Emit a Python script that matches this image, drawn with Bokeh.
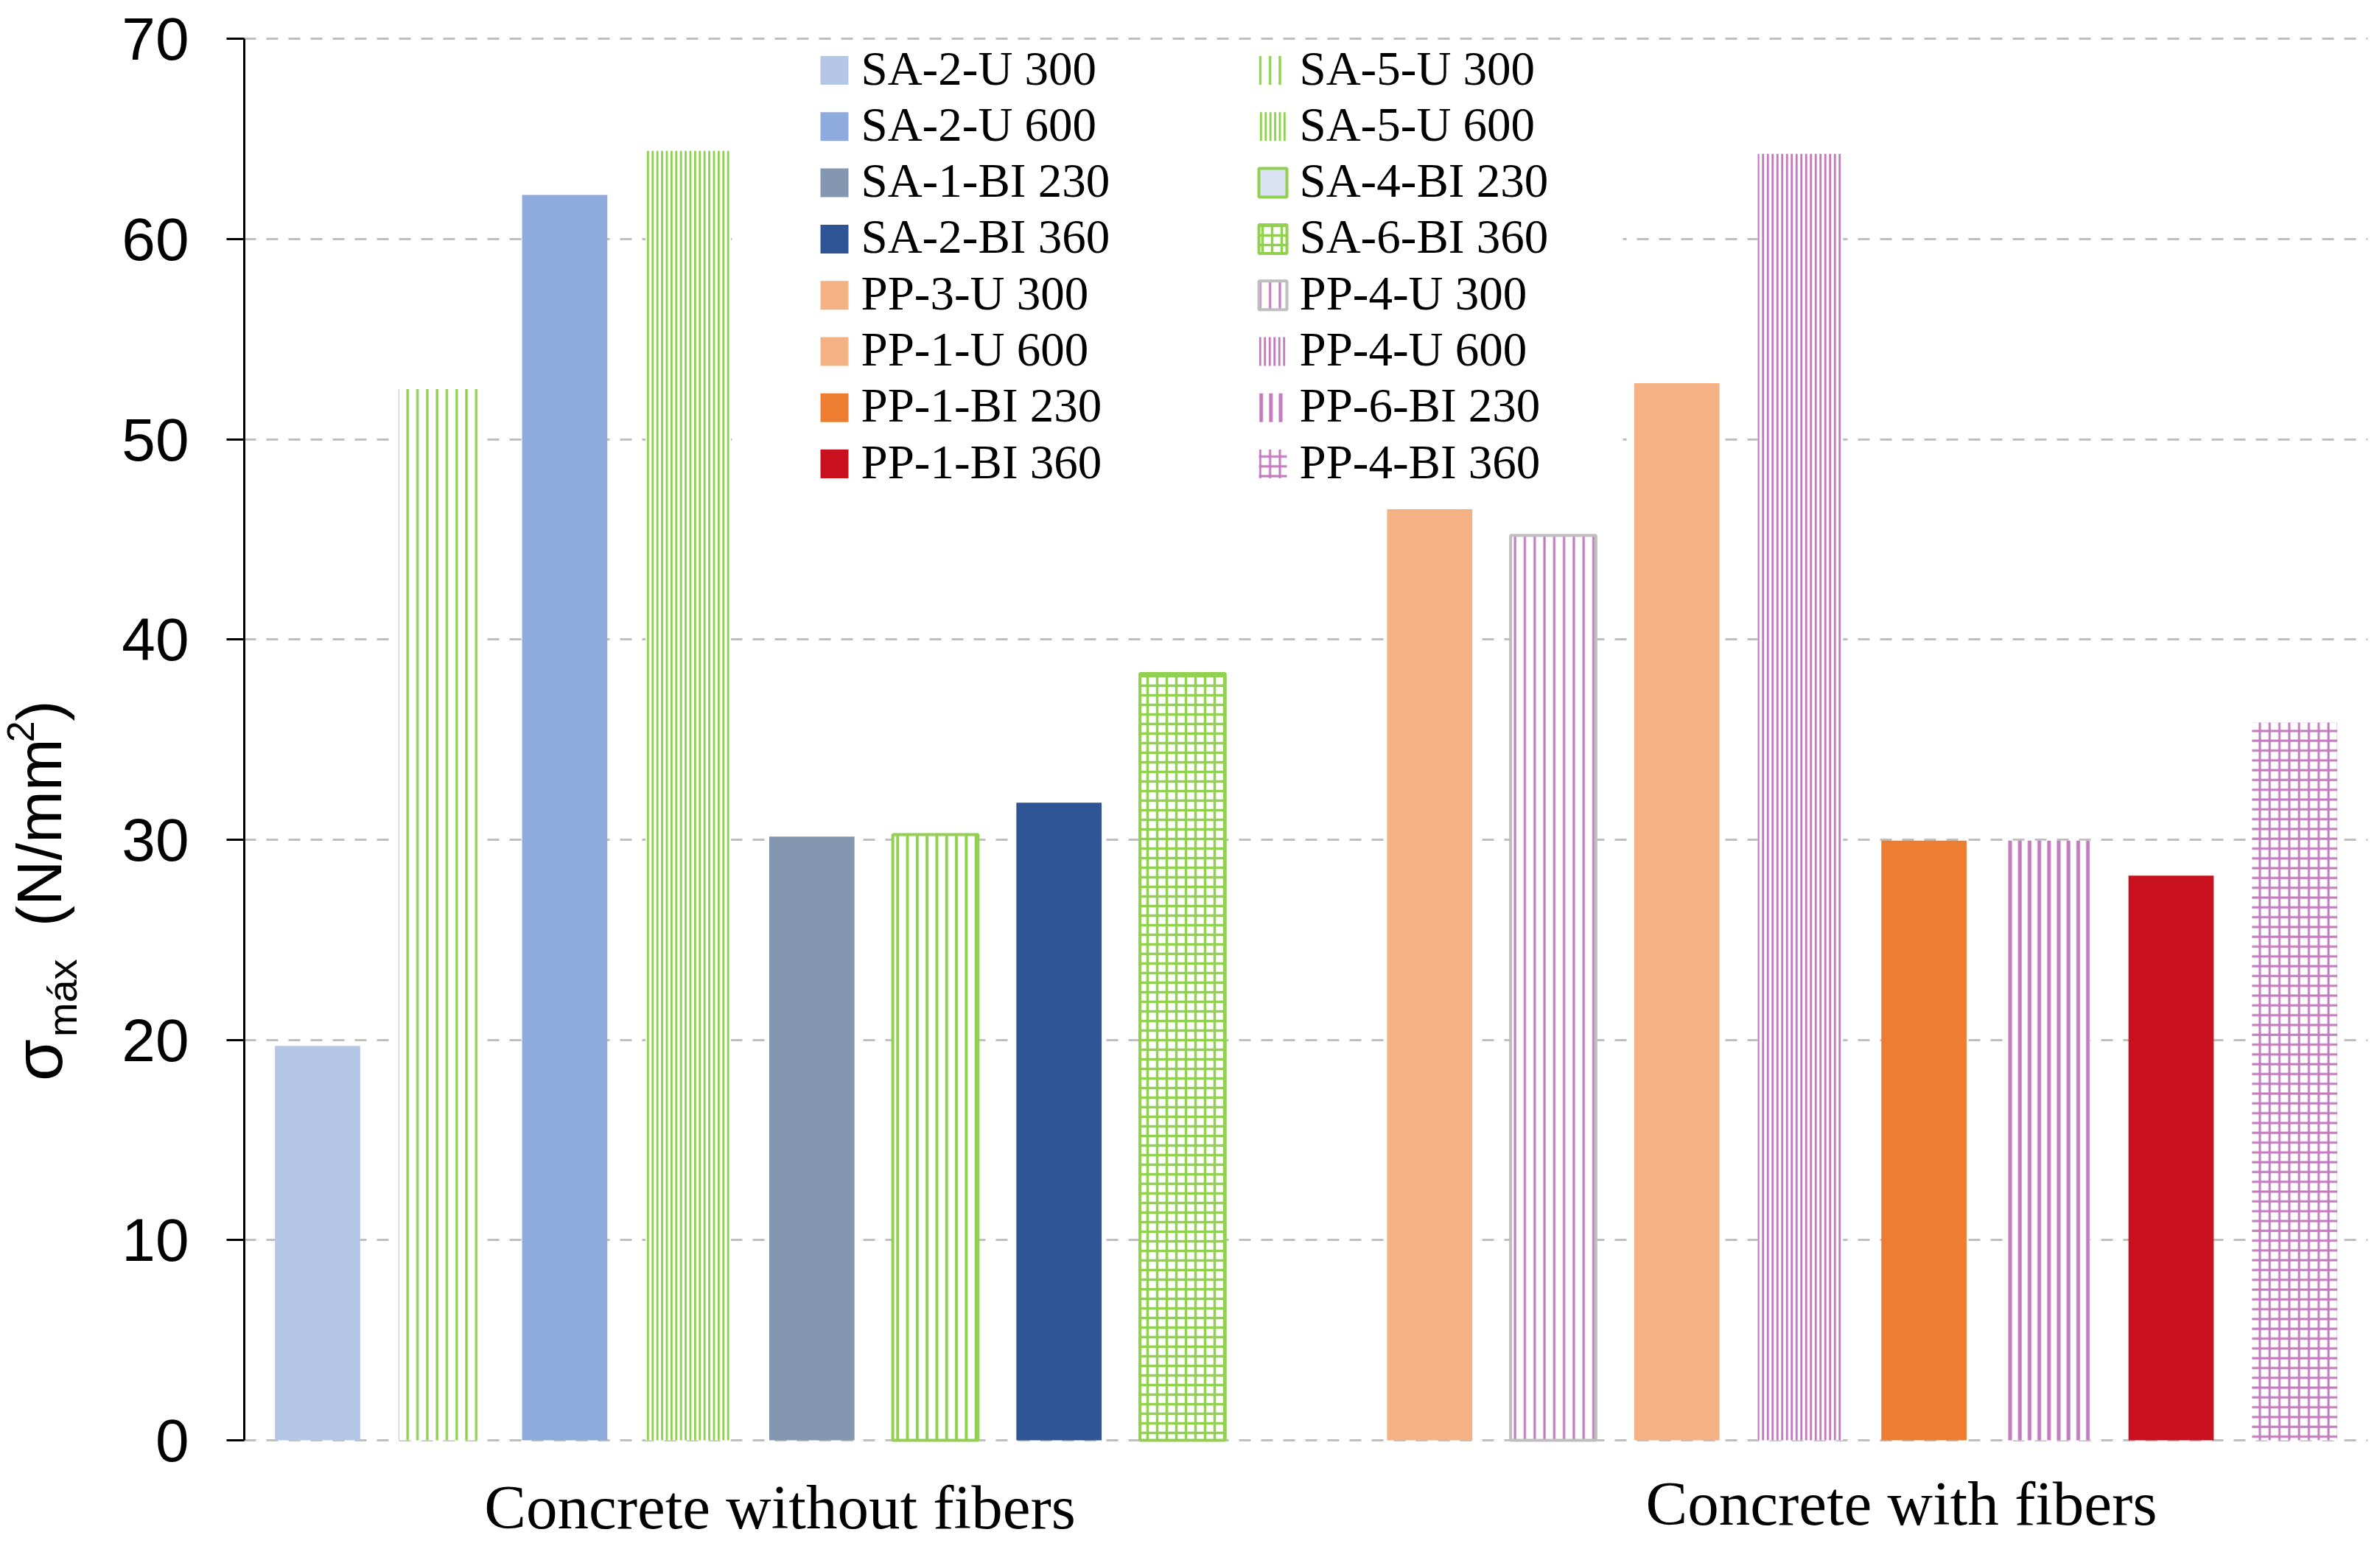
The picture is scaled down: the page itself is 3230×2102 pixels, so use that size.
import math
from bokeh.plotting import figure
from bokeh.layouts import row
from bokeh.models import Range1d, FixedTicker, ColumnDataSource
from bokeh.core.properties import value
from bokeh.embed import file_html
from bokeh.resources import INLINE

# ---------------- data ----------------
groups = ["Concrete without fibers", "Concrete with fibers"]
series = ["SA-2-U 300", "SA-5-U 300", "SA-2-U 600", "SA-5-U 600",
          "SA-1-BI 230", "SA-4-BI 230", "SA-2-BI 360", "SA-6-BI 360",
          "PP-3-U 300", "PP-4-U 300", "PP-1-U 600", "PP-4-U 600",
          "PP-1-BI 230", "PP-6-BI 230", "PP-1-BI 360", "PP-4-BI 360"]
sigma_max = [19.7, 52.5, 62.2, 64.4, 30.15, 30.25, 31.85, 38.3,
             46.5, 45.2, 52.8, 64.25, 29.95, 29.95, 28.2, 35.85]
y_ticks = [0, 10, 20, 30, 40, 50, 60, 70]
legend_col1 = ["SA-2-U 300", "SA-2-U 600", "SA-1-BI 230", "SA-2-BI 360",
               "PP-3-U 300", "PP-1-U 600", "PP-1-BI 230", "PP-1-BI 360"]
legend_col2 = ["SA-5-U 300", "SA-5-U 600", "SA-4-BI 230", "SA-6-BI 360",
               "PP-4-U 300", "PP-4-U 600", "PP-6-BI 230", "PP-4-BI 360"]

# ---------------- styles ----------------
GREEN = "#92D050"
PINK = "#C27BBE"
GRAY = "#BFBFBF"
styles = {
    "SA-2-U 300": dict(fill="#B4C7E7"),
    "SA-2-U 600": dict(fill="#8FAADC"),
    "SA-1-BI 230": dict(fill="#8497B0"),
    "SA-2-BI 360": dict(fill="#2F5597"),
    "PP-3-U 300": dict(fill="#F4B183"),
    "PP-1-U 600": dict(fill="#F4B183"),
    "PP-1-BI 230": dict(fill="#ED7D31"),
    "PP-1-BI 360": dict(fill="#C9101E"),
    "SA-5-U 300": dict(fill="white", hatch="|", hc=GREEN, hs=13.3, hw=3.4),
    "SA-5-U 600": dict(fill="white", hatch="|", hc=GREEN, hs=6.4, hw=2.9),
    "SA-4-BI 230": dict(fill="white", hatch="|", hc=GREEN, hs=13.3, hw=4, lc=GREEN, lw=4),
    "SA-6-BI 360": dict(fill="white", hatch="+", hc=GREEN, hs=13.0, hw=3.5, lc=GREEN, lw=4),
    "PP-4-U 300": dict(fill="white", hatch="|", hc=PINK, hs=13.3, hw=3.2, lc=GRAY, lw=4),
    "PP-4-U 600": dict(fill="white", hatch="|", hc=PINK, hs=6.5, hw=2.9),
    "PP-6-BI 230": dict(fill="white", hatch="|", hc=PINK, hs=13.2, hw=5),
    "PP-4-BI 360": dict(fill="white", hatch="+", hc=PINK, hs=13.3, hw=3),
}
legend_overrides = {
    "SA-4-BI 230": dict(fill="#DAE3F3", lc=GREEN, lw=4),
}


def kw(st):
    d = dict(fill_color=st.get("fill", "white"),
             line_color=st.get("lc", None),
             line_width=st.get("lw", 1))
    if "hatch" in st:
        d.update(hatch_pattern=st["hatch"], hatch_color=st["hc"],
                 hatch_scale=st["hs"], hatch_weight=st["hw"])
    return d


# ---------------- layout geometry (pixels) ----------------
H = 2096
TITLE_W = 120            # narrow left panel holding the rotated y title
MAIN_W = 3222 - TITLE_W
B_LEFT, B_RIGHT, B_TOP = 211, 9, 41
FRAME_X0 = TITLE_W + B_LEFT          # page x of frame left
PX_PER_X = 167.7
PX_PER_Y = 27.17
Y0_PX = 1954                          # page y of value 0
x_start = 1 - (430.5 - FRAME_X0) / PX_PER_X
x_end = x_start + (MAIN_W - B_LEFT - B_RIGHT) / PX_PER_X
y_end = (Y0_PX - B_TOP) / PX_PER_Y
y_start = (Y0_PX - H) / PX_PER_Y


def px2x(px):
    return x_start + (px - FRAME_X0) / PX_PER_X


def px2y(py):
    return (Y0_PX - py) / PX_PER_Y


# positions: group 1 -> 1..8, one empty slot, group 2 -> 10..17
xpos = [i + 1 for i in range(8)] + [i + 10 for i in range(8)]

p = figure(width=MAIN_W, height=H,
           x_range=Range1d(x_start, x_end), y_range=Range1d(y_start, y_end),
           output_backend="svg", toolbar_location=None,
           x_axis_type=None,
           min_border_left=B_LEFT, min_border_right=B_RIGHT,
           min_border_top=B_TOP, min_border_bottom=0)
p.outline_line_color = None
p.background_fill_color = "white"
p.border_fill_color = "white"

# y axis
ax = p.yaxis[0]
ax.ticker = FixedTicker(ticks=y_ticks)
ax.bounds = (0, 70)
ax.axis_line_color = "black"
ax.axis_line_width = 3
ax.major_tick_out = 24
ax.major_tick_in = 0
ax.major_tick_line_width = 3
ax.major_tick_line_color = "black"
ax.minor_tick_line_color = None
ax.major_label_text_font = "Liberation Sans"
ax.major_label_text_font_size = "82px"
ax.major_label_text_color = "black"
ax.major_label_standoff = 51

p.ygrid.ticker = FixedTicker(ticks=y_ticks)
p.ygrid.grid_line_color = GRAY
p.ygrid.grid_line_width = 3
p.ygrid.grid_line_dash = "16 14"

# legend background (hides grid lines behind legend)
p.quad(left=px2x(993), right=px2x(2202), top=px2y(60), bottom=px2y(704),
       fill_color="white", line_color=None)

# bars
for name, x, v in zip(series, xpos, sigma_max):
    p.vbar(x=x, top=v, bottom=0, width=0.69, **kw(styles[name]))

# legend (two columns)
sw_w, sw_h = 38 / PX_PER_X, 39 / PX_PER_Y
cols = [(legend_col1, 1132, 1168), (legend_col2, 1727, 1763)]
for names, sx_px, tx_px in cols:
    for i, name in enumerate(names):
        st = dict(styles[name])
        if name in legend_overrides:
            st.pop("hatch", None)
            st.update(legend_overrides[name])
        p.rect(x=px2x(sx_px), y=px2y(95 + 76.3 * i), width=sw_w, height=sw_h, **kw(st))
    src = ColumnDataSource(dict(x=[px2x(tx_px)] * len(names),
                                y=[px2y(92 + 76.3 * i) for i in range(len(names))],
                                t=names))
    p.text(x="x", y="y", text="t", source=src,
           text_font=value("Liberation Serif"), text_font_size=value("65px"),
           text_align="left", text_baseline="middle", text_color="black")

# group labels below the bars
gsrc = ColumnDataSource(dict(x=[px2x(1058), px2x(2580)],
                             y=[px2y(2044), px2y(2039)],
                             t=groups))
p.text(x="x", y="y", text="t", source=gsrc,
       text_font=value("Liberation Serif"), text_font_size=value("85px"),
       text_align="center", text_baseline="middle", text_color="black")

# ---------------- y-axis title panel: sigma_max (N/mm^2) ----------------
q = figure(width=TITLE_W, height=H, x_range=Range1d(0, TITLE_W), y_range=Range1d(0, H),
           output_backend="svg", toolbar_location=None,
           x_axis_type=None, y_axis_type=None,
           min_border_left=0, min_border_right=0, min_border_top=0, min_border_bottom=0)
q.outline_line_color = None
q.grid.visible = False
ylab_text = ["σ", "máx", "(N/mm", "2", ")"]
ylab_x = [51, 84, 53, 27, 53]
ylab_start = [1454, 1393, 1240, 985, 956]
ylab_size = ["92px", "56px", "85px", "52px", "85px"]
for t, lx, ly, fs in zip(ylab_text, ylab_x, ylab_start, ylab_size):
    q.text(x=[lx], y=[H - ly], text=[t], angle=math.pi / 2,
           text_align="left", text_baseline="middle",
           text_font=value("Liberation Sans"), text_font_size=value(fs),
           text_color="black")

layout = row(q, p, spacing=0)
open("out.html", "w").write(file_html(layout, INLINE))
